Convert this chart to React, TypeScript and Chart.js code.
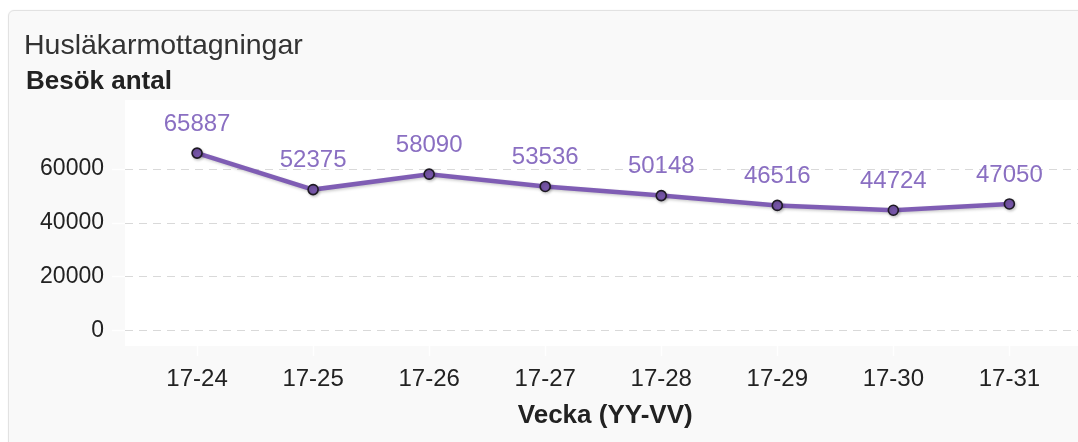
import React, { useEffect, useRef } from "react";
import { Chart, registerables } from "chart.js";

Chart.register(...registerables);

const categories: string[] = ["17-24", "17-25", "17-26", "17-27", "17-28", "17-29", "17-30", "17-31"];
const visits: number[] = [65887, 52375, 58090, 53536, 50148, 46516, 44724, 47050];
const yTickValues: number[] = [0, 20000, 40000, 60000];

const chartTitle = "Husläkarmottagningar";
const yAxisTitle = "Besök antal";
const xAxisTitle = "Vecka (YY-VV)";

const FONT = '"Liberation Sans", Arial, sans-serif';
const LINE_COLOR = "#7f5db4";
const LABEL_COLOR = "#8a6fc2";

export default function App() {
  const ref = useRef<HTMLCanvasElement | null>(null);

  useEffect(() => {
    document.documentElement.style.overflow = "hidden";
    document.body.style.overflow = "hidden";
    const canvas = ref.current;
    if (!canvas) return;

    const plotBg = {
      id: "plotBg",
      beforeDraw(chart: any) {
        const { ctx, chartArea } = chart;
        ctx.save();
        ctx.fillStyle = "#ffffff";
        ctx.fillRect(chartArea.left, chartArea.top, chart.width - chartArea.left, chartArea.bottom - chartArea.top);
        ctx.restore();
      },
    };

    const shadow = {
      id: "lineShadow",
      beforeDatasetDraw(chart: any) {
        const ctx = chart.ctx;
        ctx.save();
        ctx.shadowColor = "rgba(0,0,0,0.2)";
        ctx.shadowOffsetX = 1;
        ctx.shadowOffsetY = 1.5;
        ctx.shadowBlur = 3;
      },
      afterDatasetDraw(chart: any) {
        chart.ctx.restore();
      },
    };

    const dataLabels = {
      id: "dataLabels",
      afterDatasetsDraw(chart: any) {
        const { ctx } = chart;
        const meta = chart.getDatasetMeta(0);
        ctx.save();
        ctx.font = `24px ${FONT}`;
        ctx.fillStyle = LABEL_COLOR;
        ctx.textAlign = "center";
        ctx.textBaseline = "middle";
        meta.data.forEach((pt: any, i: number) => {
          ctx.fillText(String(visits[i]), pt.x, pt.y - 29);
        });
        ctx.restore();
      },
    };

    const chart = new Chart(canvas, {
      type: "line",
      data: {
        datasets: [
          {
            label: yAxisTitle,
            data: visits.map((v, i) => ({ x: i, y: v })),
            borderColor: LINE_COLOR,
            borderWidth: 4.5,
            backgroundColor: LINE_COLOR,
            pointRadius: 5,
            pointBackgroundColor: "#7655a8",
            pointBorderColor: "#1e1a24",
            pointBorderWidth: 1.6,
            tension: 0,
            fill: false,
          },
        ],
      },
      plugins: [plotBg, shadow, dataLabels],
      options: {
        animation: false,
        responsive: false,
        maintainAspectRatio: false,
        layout: { padding: { top: 89, left: 0, right: 0, bottom: 0 } },
        plugins: {
          legend: { display: false },
          tooltip: { enabled: false },
          title: { display: false },
        },
        scales: {
          x: {
            type: "linear",
            min: -0.621,
            max: 7.655,
            afterBuildTicks(scale: any) {
              scale.ticks = categories.map((_, i) => ({ value: i }));
            },
            afterFit(scale: any) {
              scale.height = 96;
            },
            ticks: {
              autoSkip: false,
              maxRotation: 0,
              padding: 9,
              color: "#222222",
              font: { family: FONT, size: 24 },
              callback: (v: any) => categories[v as number] ?? "",
            },
            grid: {
              drawOnChartArea: false,
              drawTicks: true,
              tickLength: 10,
              tickColor: "#ffffff",
              tickWidth: 1.5,
            },
            border: { display: false },
            title: {
              display: true,
              text: xAxisTitle,
              color: "#222222",
              font: { family: FONT, size: 26, weight: "bold" },
              padding: { top: 0, bottom: 11 },
            },
          },
          y: {
            type: "linear",
            min: -5556,
            max: 85556,
            afterBuildTicks(scale: any) {
              scale.ticks = yTickValues.map((v) => ({ value: v }));
            },
            afterFit(scale: any) {
              scale.width = 116;
            },
            ticks: {
              padding: 8,
              color: "#222222",
              font: { family: FONT, size: 23 },
              callback: (v: any) => String(v),
            },
            grid: {
              color: "#d9d9d9",
              lineWidth: 1,
              drawTicks: true,
              tickLength: 13,
              tickColor: "#ffffff",
              tickWidth: 1.5,
            },
            border: { display: false, dash: [8, 6] },
          },
        },
      },
    });

    return () => {
      chart.destroy();
    };
  }, []);

  return (
    <div
      style={{
        position: "fixed",
        left: 8,
        top: 10,
        width: 1100,
        height: 450,
        background: "#f9f9f9",
        border: "1px solid #e2e2e2",
        borderRadius: 6,
        boxSizing: "border-box",
        overflow: "hidden",
        boxShadow: "0 0 2px rgba(0,0,0,0.06)",
      }}
    >
      <canvas ref={ref} width={1083} height={431} style={{ position: "absolute", left: 0, top: 0, display: "block" }} />
      <div
        style={{
          position: "absolute",
          left: 15,
          top: 19,
          fontFamily: FONT,
          fontSize: 28.5,
          lineHeight: "29px",
          color: "#333333",
          whiteSpace: "nowrap",
        }}
      >
        {chartTitle}
      </div>
      <div
        style={{
          position: "absolute",
          left: 17,
          top: 56,
          fontFamily: FONT,
          fontSize: 26,
          fontWeight: "bold",
          lineHeight: "27px",
          color: "#222222",
          whiteSpace: "nowrap",
        }}
      >
        {yAxisTitle}
      </div>
    </div>
  );
}
